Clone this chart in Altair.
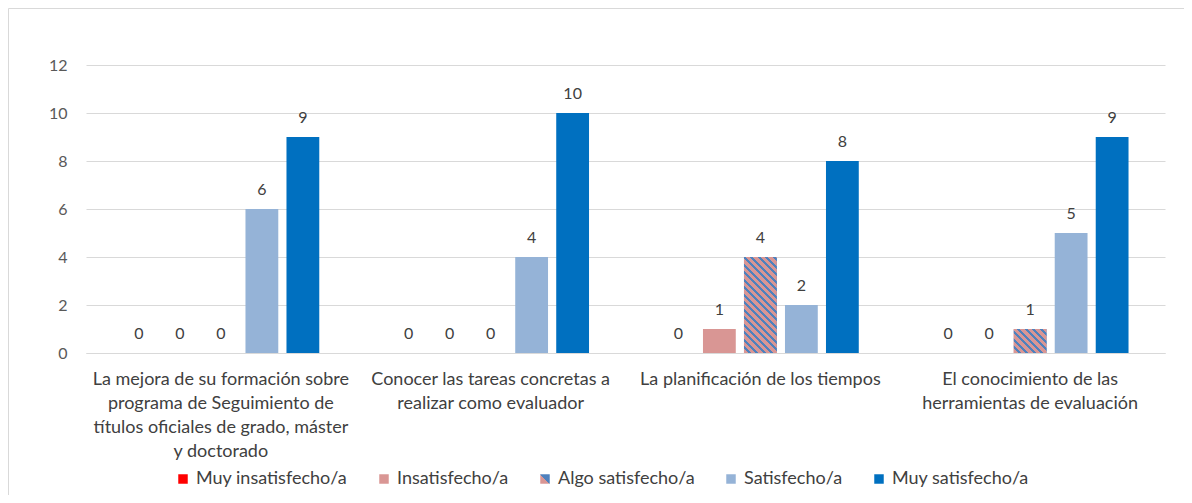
import json
import altair as alt
import pandas as pd

# ---------------- data ----------------
categories = [
    "La mejora de su formación sobre programa de Seguimiento de títulos oficiales de grado, máster y doctorado",
    "Conocer las tareas concretas a realizar como evaluador",
    "La planificación de los tiempos",
    "El conocimiento de las herramientas de evaluación",
]
category_lines = [
    ["La mejora de su formación sobre", "programa de Seguimiento de",
     "títulos oficiales de grado, máster", "y doctorado"],
    ["Conocer las tareas concretas a", "realizar como evaluador"],
    ["La planificación de los tiempos"],
    ["El conocimiento de las", "herramientas de evaluación"],
]
series = ["Muy insatisfecho/a", "Insatisfecho/a", "Algo satisfecho/a",
          "Satisfecho/a", "Muy satisfecho/a"]
muy_insatisfecho = [0, 0, 0, 0]
insatisfecho = [0, 0, 1, 0]
algo_satisfecho = [0, 0, 4, 1]
satisfecho = [6, 4, 2, 5]
muy_satisfecho = [9, 10, 8, 9]
y_ticks = [0, 2, 4, 6, 8, 10, 12]

values_by_series = [muy_insatisfecho, insatisfecho, algo_satisfecho,
                    satisfecho, muy_satisfecho]
rows = []
for s, vals in zip(series, values_by_series):
    for c, v in zip(categories, vals):
        rows.append({"categoria": c, "serie": s, "valor": v})
df = pd.DataFrame(rows)

# ---------------- layout / style ----------------
W, H = 1079, 288
PAD = {"left": 78, "top": 57, "right": 19, "bottom": 142}
Y_MAX = 12
X_PI, X_PO = 0.24, 0.12
O_PI, O_PO = 0.2, 0.1

PINK = "#D99694"
STRIPE = "#4F81BD"
FONT = "Lato"
TXT = "#404040"

legend_split = alt.ExprRef(
    expr="{gradient:'linear',x1:0,y1:1,x2:1,y2:0,stops:["
         "{offset:0,color:'" + PINK + "'},{offset:0.5,color:'" + PINK + "'},"
         "{offset:0.5,color:'" + STRIPE + "'},{offset:1,color:'" + STRIPE + "'}]}"
)
color_range = ["#FF0000", "#D99694", legend_split, "#95B3D7", "#0070C0"]

x_step = W / (len(categories) - X_PI + 2 * X_PO)
band = x_step * (1 - X_PI)
bar_w = band / (len(series) - O_PI + 2 * O_PO) * (1 - O_PI)
PERIOD = 7.5


def hatch(h):
    w = bar_w
    k = (w + h) / (w * w + h * h)
    n = (w + h) / PERIOD
    stops = []
    j = 0
    while j < n:
        a = j / n
        b = min((j + 0.6) / n, 1.0)
        c = min((j + 1) / n, 1.0)
        stops += [
            alt.GradientStop(offset=a, color=PINK),
            alt.GradientStop(offset=b, color=PINK),
            alt.GradientStop(offset=b, color=STRIPE),
            alt.GradientStop(offset=c, color=STRIPE),
        ]
        j += 1
    return alt.LinearGradient(gradient="linear", x1=0, y1=1,
                              x2=k * w, y2=1 - k * h, stops=stops)


label_map = {c: lines for c, lines in zip(categories, category_lines)}
label_expr = json.dumps(label_map, ensure_ascii=False) + "[datum.label]"

base = alt.Chart(df).encode(
    x=alt.X("categoria:N", sort=categories,
            scale=alt.Scale(paddingInner=X_PI, paddingOuter=X_PO),
            axis=alt.Axis(title=None, labelAngle=0, labelExpr=label_expr,
                          labelFont=FONT, labelFontSize=18, labelColor=TXT,
                          labelLineHeight=24, labelPadding=17, labelLimit=400,
                          labelOverlap=False, labelBaseline="top",
                          ticks=False, grid=False, domainColor="#d9d9d9")),
    xOffset=alt.XOffset("serie:N", sort=series,
                        scale=alt.Scale(paddingInner=O_PI, paddingOuter=O_PO)),
    y=alt.Y("valor:Q", scale=alt.Scale(domain=[0, Y_MAX]),
            axis=alt.Axis(title=None, values=y_ticks, labelFont=FONT,
                          labelFontSize=16, labelColor="#595959",
                          ticks=False, domain=False, labelPadding=19,
                          grid=True, gridColor="#d9d9d9")),
)

bars = base.mark_bar().encode(
    color=alt.Color("serie:N", sort=series,
                    scale=alt.Scale(domain=series, range=color_range),
                    legend=alt.Legend(title=None, orient="none",
                                      legendX=88, legendY=405,
                                      direction="horizontal",
                                      symbolType="square", symbolSize=90,
                                      symbolStrokeWidth=0,
                                      labelFont=FONT, labelFontSize=18,
                                      labelColor=TXT, labelOffset=4,
                                      columnPadding=27, padding=0,
                                      labelLimit=400))
)

hatch_layers = []
for c, v in zip(categories, algo_satisfecho):
    if v > 0:
        hatch_layers.append(
            base.transform_filter(alt.FieldEqualPredicate(field="categoria", equal=c))
            .transform_filter(alt.FieldEqualPredicate(field="serie", equal=series[2]))
            .mark_bar(fill=hatch(v * H / Y_MAX))
        )

labels = base.mark_text(baseline="alphabetic", dy=-14, font=FONT,
                        fontSize=16, color=TXT).encode(text=alt.Text("valor:Q"))

frame = alt.Chart(pd.DataFrame({"f": [0]})).mark_rect(
    fill="transparent", stroke="#d9d9d9", strokeWidth=1
).encode(
    x=alt.value(-PAD["left"] + 0.5), x2=alt.value(W + 300),
    y=alt.value(-PAD["top"] + 0.5), y2=alt.value(H + 300),
)

chart = alt.layer(frame, bars, *hatch_layers, labels).properties(
    width=W, height=H, padding=PAD,
    autosize=alt.AutoSizeParams(type="none"),
    background="white",
).configure_view(strokeWidth=0)

chart.save("out.html", embed_options={"renderer": "svg", "actions": False})
